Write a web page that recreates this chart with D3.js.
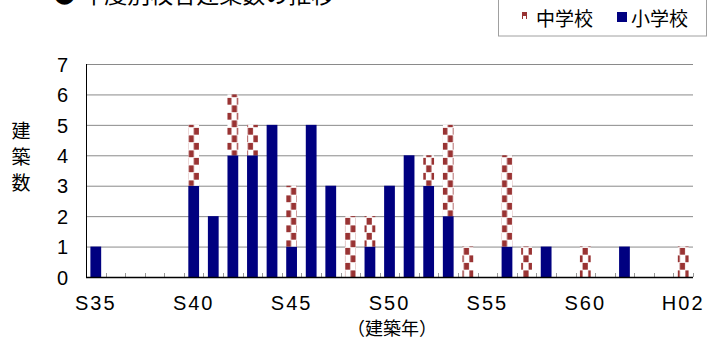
<!DOCTYPE html>
<html>
<head>
<meta charset="utf-8">
<script src="https://cdn.jsdelivr.net/npm/d3@7"></script>
<style>
  html, body { margin: 0; padding: 0; background: #fff; }
  svg { display: block; }
  text { font-family: "Noto Sans CJK JP", "Liberation Sans", sans-serif; fill: #000; }
</style>
</head>
<body>
<svg id="chart" width="723" height="341"></svg>
<script>
// 建築年（昭和35年〜平成2年）
const years = ["S35","S36","S37","S38","S39","S40","S41","S42","S43","S44",
               "S45","S46","S47","S48","S49","S50","S51","S52","S53","S54",
               "S55","S56","S57","S58","S59","S60","S61","S62","S63","H01","H02"];
// 小学校の建築数
const elementary = [1,0,0,0,0,3,2,4,4,5, 1,5,3,0,1,3,4,3,2,0, 0,1,0,1,0,0,0,1,0,0,0];
// 中学校の建築数
const juniorHigh = [0,0,0,0,0,2,0,2,1,0, 2,0,0,2,1,0,0,1,3,1, 0,3,1,0,0,1,0,0,0,0,1];
const xTickLabels = ["S35","S40","S45","S50","S55","S60","H02"];
const yTicks = [0,1,2,3,4,5,6,7];
const seriesKeys = ["小学校","中学校"];

const svg = d3.select("#chart");
const plot = { left: 86, right: 693, top: 64, bottom: 277 };

const x = d3.scaleBand().domain(years).range([plot.left, plot.right])
  .paddingInner(0.45).paddingOuter(0.225);
const y = d3.scaleLinear().domain([0, 7]).range([plot.bottom, plot.top]);

// checkered fill for 中学校
const defs = svg.append("defs");
const pat = defs.append("pattern").attr("id", "check")
  .attr("patternUnits", "userSpaceOnUse").attr("width", 10.8).attr("height", 15)
  .attr("x", x("S40")).attr("y", 0);
pat.append("rect").attr("width", 10.8).attr("height", 15).attr("fill", "#fff");
pat.append("rect").attr("x", 0.3).attr("y", 0.4).attr("width", 5.2).attr("height", 6.8).attr("fill", "#993333");
pat.append("rect").attr("x", 5.5).attr("y", 7.9).attr("width", 5.2).attr("height", 6.8).attr("fill", "#993333");

const colors = { "小学校": "#000080", "中学校": "url(#check)" };

// gridlines
svg.append("g").selectAll("line").data(yTicks.filter(d => d > 0)).join("line")
  .attr("x1", plot.left).attr("x2", plot.right)
  .attr("y1", d => y(d) + 0.5).attr("y2", d => y(d) + 0.5)
  .attr("stroke", "#8a8a8a").attr("stroke-width", 1);

// stacked bars
const rows = years.map((yr, i) => ({ year: yr, "小学校": elementary[i], "中学校": juniorHigh[i] }));
const stacked = d3.stack().keys(seriesKeys)(rows);
svg.append("g").selectAll("g").data(stacked).join("g")
  .attr("fill", d => colors[d.key])
  .selectAll("rect").data(d => d.filter(s => s[1] > s[0])).join("rect")
  .attr("x", d => x(d.data.year))
  .attr("width", x.bandwidth())
  .attr("y", d => y(d[1]))
  .attr("height", d => y(d[0]) - y(d[1]));

// category boundary ticks along the base
const step = x.step();
const bounds = d3.range(1, years.length + 1).map(i => plot.left + i * step);
svg.append("g").selectAll("line").data(bounds).join("line")
  .attr("x1", d => Math.round(d) + 0.5).attr("x2", d => Math.round(d) + 0.5)
  .attr("y1", plot.bottom - 4).attr("y2", plot.bottom)
  .attr("stroke", "#999");

// axes lines
svg.append("line").attr("x1", plot.left + 0.5).attr("x2", plot.left + 0.5)
  .attr("y1", plot.top).attr("y2", plot.bottom + 1).attr("stroke", "#000");
svg.append("line").attr("x1", plot.left).attr("x2", plot.right)
  .attr("y1", plot.bottom + 0.5).attr("y2", plot.bottom + 0.5).attr("stroke", "#000").attr("stroke-width", 1.5);

// y tick labels
const yAxis = svg.append("g").attr("transform", `translate(${plot.left},0)`)
  .call(d3.axisLeft(y).tickValues(yTicks).tickFormat(d3.format("d")).tickSize(0).tickPadding(18));
yAxis.select(".domain").remove();
yAxis.selectAll("text").attr("font-size", 20)
  .style("font-family", "'Liberation Sans', Arial, sans-serif").attr("dy", "0.36em");

// x tick labels
const xAxis = svg.append("g").attr("transform", `translate(0,${plot.bottom})`)
  .call(d3.axisBottom(x).tickValues(xTickLabels).tickSize(0).tickPadding(19));
xAxis.select(".domain").remove();
xAxis.selectAll("text").attr("font-size", 20).attr("letter-spacing", "2px")
  .style("font-family", "'Liberation Sans', Arial, sans-serif");

// axis titles
svg.append("text").attr("x", 392).attr("y", 335).attr("text-anchor", "middle")
  .attr("font-size", 18).text("（建築年）");
const yTitle = svg.append("text").attr("font-size", 19).attr("text-anchor", "middle");
["建","築","数"].forEach((c, i) => {
  yTitle.append("tspan").attr("x", 21).attr("y", 138 + i * 26).text(c);
});

// chart title (top edge clipped by the frame)
svg.append("text").attr("x", 53).attr("y", 3).attr("font-size", 23)
  .text("● 年度別校舎建築数の推移");

// legend
const lg = svg.append("g");
lg.append("rect").attr("x", 498.5).attr("y", -5).attr("width", 208).attr("height", 41)
  .attr("fill", "#fff").attr("stroke", "#a0a0a0");
lg.append("rect").attr("x", 522).attr("y", 12).attr("width", 5).attr("height", 7).attr("fill", "#993333");
lg.append("rect").attr("x", 523).attr("y", 16).attr("width", 3).attr("height", 3).attr("fill", "#fff");
lg.append("text").attr("x", 536).attr("y", 26).attr("font-size", 19).text("中学校");
lg.append("rect").attr("x", 617).attr("y", 12).attr("width", 10).attr("height", 10).attr("fill", "#000080");
lg.append("text").attr("x", 631).attr("y", 26).attr("font-size", 19).text("小学校");
</script>
</body>
</html>
